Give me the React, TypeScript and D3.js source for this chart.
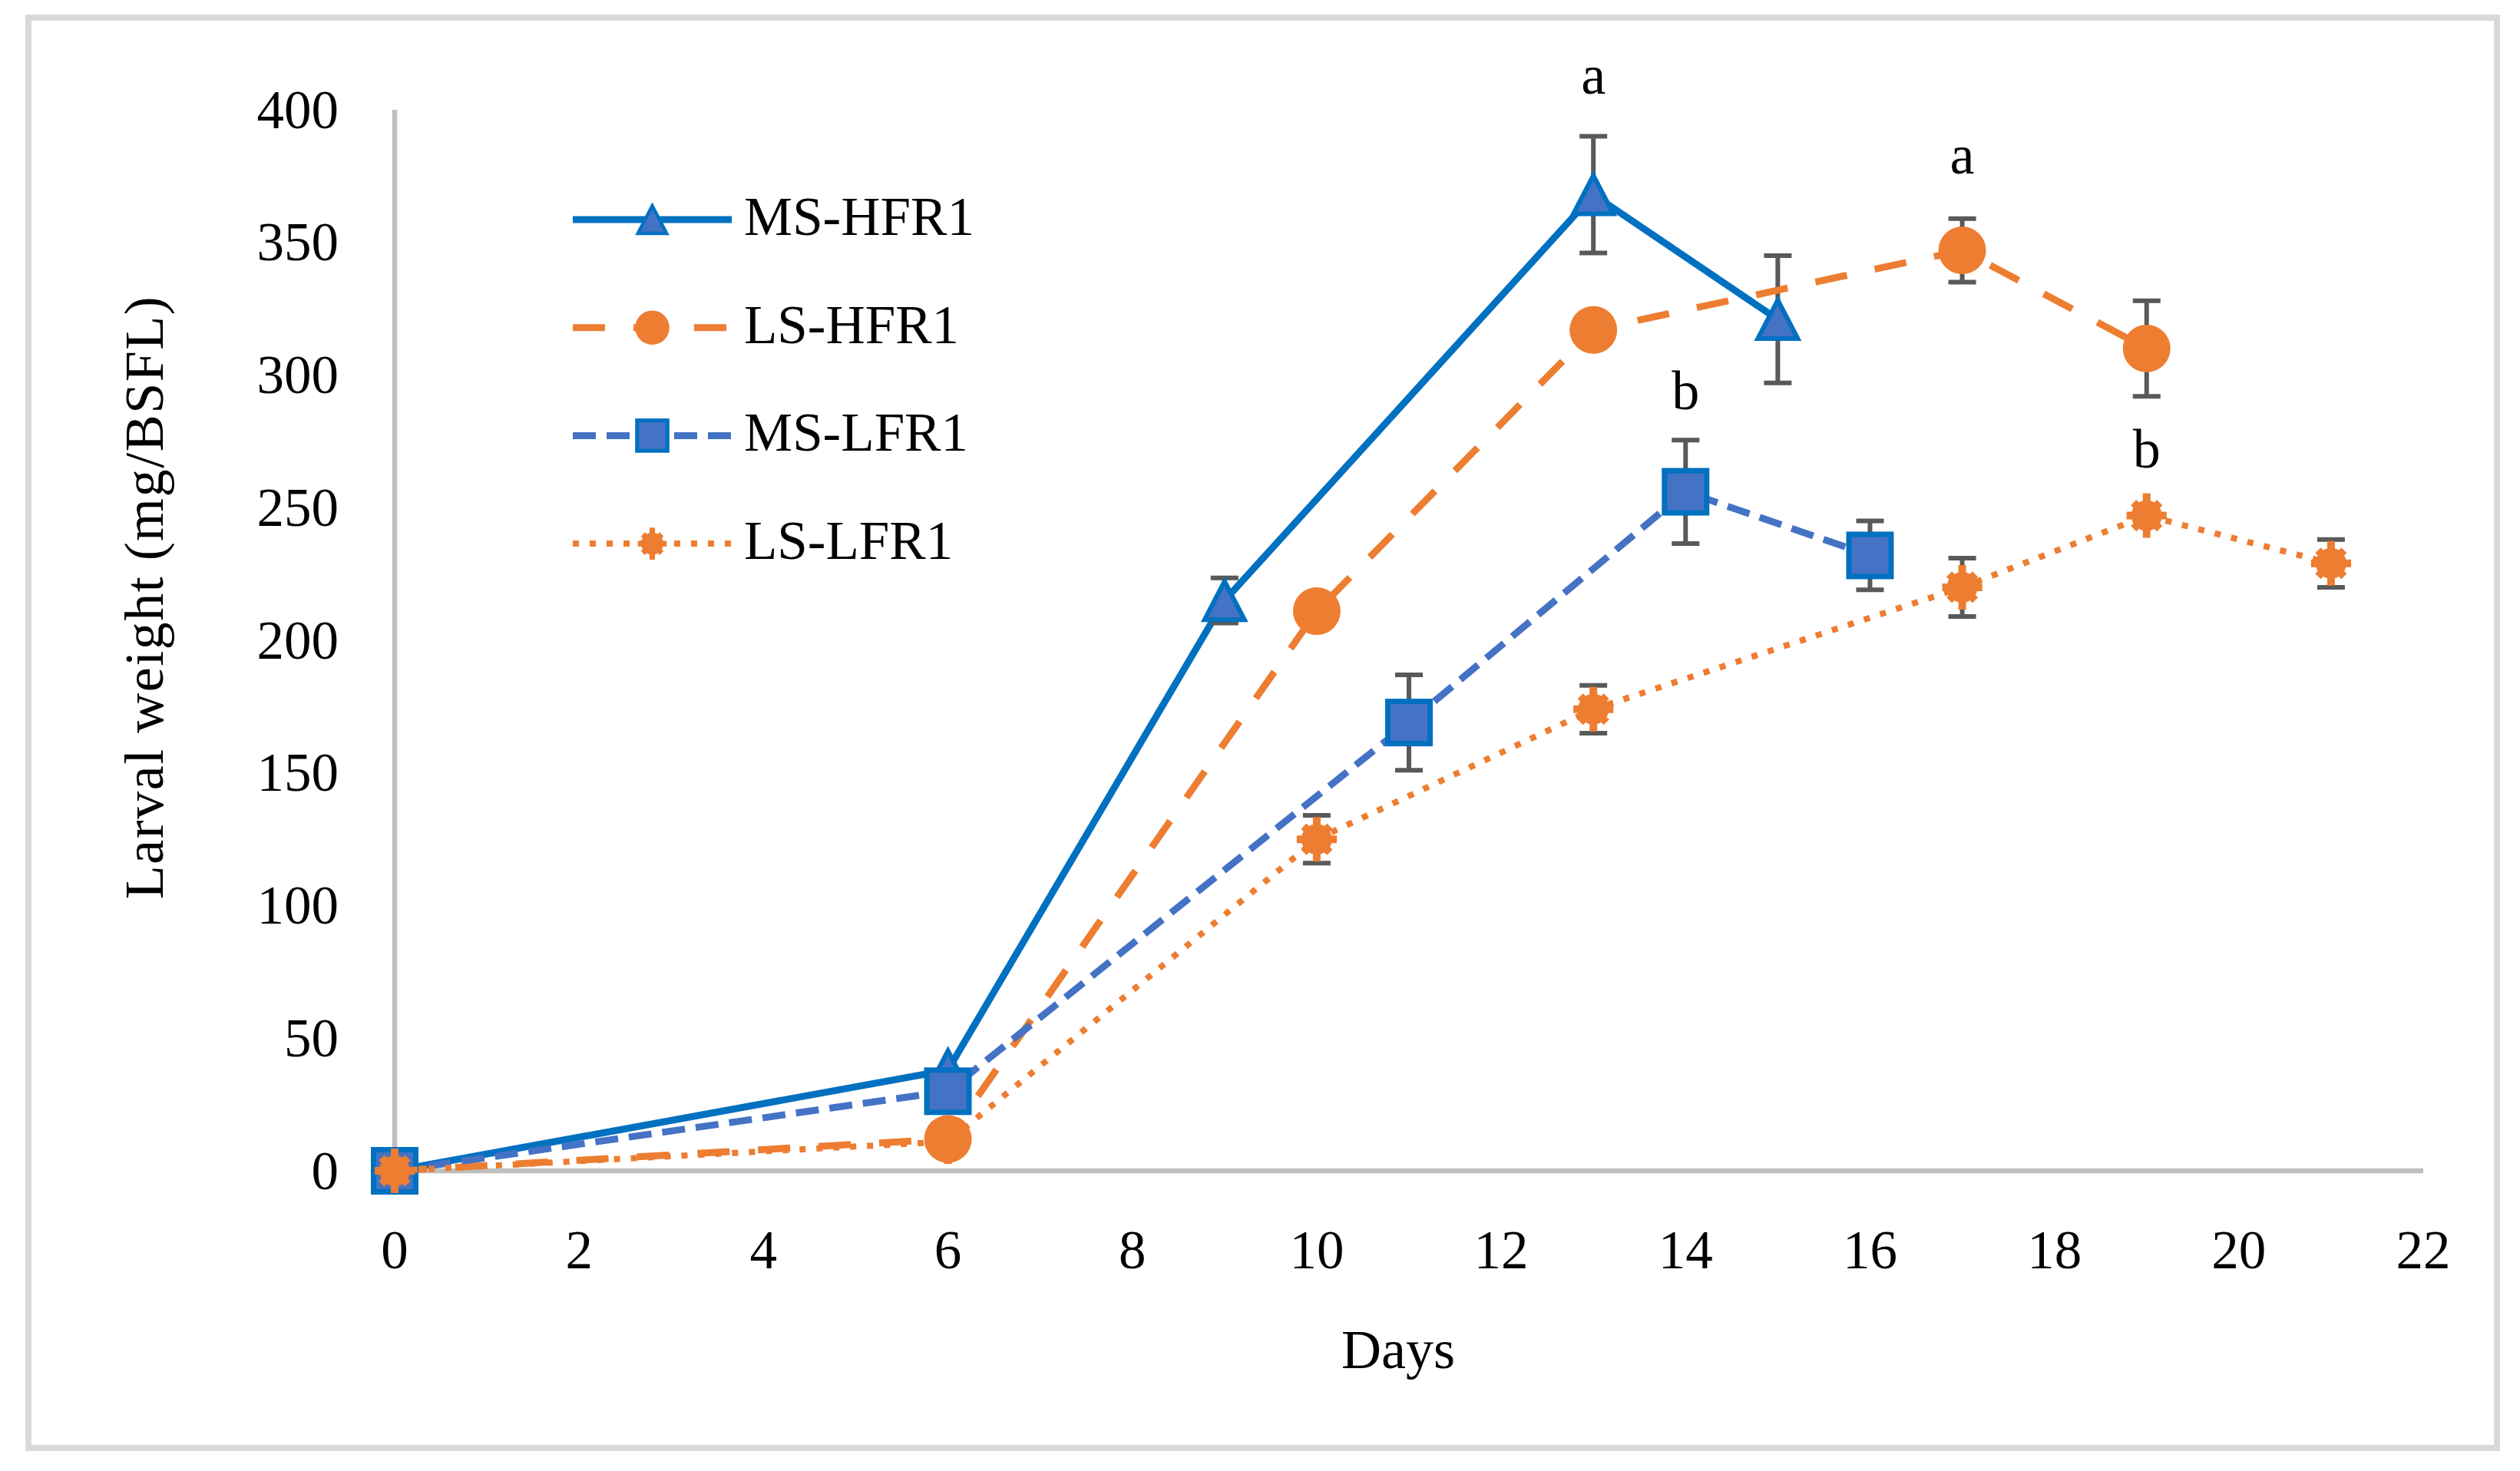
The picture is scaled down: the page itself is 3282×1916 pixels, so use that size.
import * as d3 from "d3";

const W = 3282;
const H = 1916;

// ---- data ----
const xTicks = [0, 2, 4, 6, 8, 10, 12, 14, 16, 18, 20, 22];
const yTicks = [0, 50, 100, 150, 200, 250, 300, 350, 400];

const msHfrDays = [0, 6, 9, 13, 15];
const msHfrWeight = [0, 38, 215, 368, 321];
const msHfrErr = [0, 0, 8.5, 22, 24];

const lsHfrDays = [0, 6, 10, 13, 17, 19];
const lsHfrWeight = [0, 12, 211, 317, 347, 310];
const lsHfrErr = [0, 0, 0, 0, 12, 18];

const msLfrDays = [0, 6, 11, 14, 16];
const msLfrWeight = [0, 30, 169, 256, 232];
const msLfrErr = [0, 0, 18, 19.5, 13];

const lsLfrDays = [0, 6, 10, 13, 17, 19, 21];
const lsLfrWeight = [0, 11, 125, 174, 220, 247, 229];
const lsLfrErr = [0, 0, 9, 9, 11, 0, 9];

const letterText = ["a", "a", "b", "b"];
const letterDays = [13, 17, 14, 19];
const letterLevel = [406, 376, 287, 265];

type MarkerKind = "triangle" | "circle" | "square" | "star";

interface Series {
  name: string;
  days: number[];
  values: number[];
  errors: number[];
  color: string;
  width: number;
  dash: string | undefined;
  marker: MarkerKind;
}

const series: Series[] = [
  { name: "MS-HFR1", days: msHfrDays, values: msHfrWeight, errors: msHfrErr, color: "#0070C0", width: 9, dash: undefined, marker: "triangle" },
  { name: "LS-HFR1", days: lsHfrDays, values: lsHfrWeight, errors: lsHfrErr, color: "#ED7D31", width: 9, dash: "42 37", marker: "circle" },
  { name: "MS-LFR1", days: msLfrDays, values: msLfrWeight, errors: msLfrErr, color: "#4472C4", width: 9, dash: "30 14", marker: "square" },
  { name: "LS-LFR1", days: lsLfrDays, values: lsLfrWeight, errors: lsLfrErr, color: "#ED7D31", width: 8, dash: "8 14", marker: "star" },
];

const FONT = "'Liberation Serif', 'Times New Roman', serif";
const AXIS = "#BFBFBF";
const ERR = "#595959";

function Marker({ kind, cx, cy, k }: { kind: MarkerKind; cx: number; cy: number; k: number }) {
  if (kind === "triangle") {
    const s = 52 * k;
    const h = 50 * k;
    return (
      <path
        d={`M${cx},${cy - h / 2}L${cx + s / 2},${cy + h / 2}L${cx - s / 2},${cy + h / 2}Z`}
        fill="#4472C4"
        stroke="#0070C0"
        strokeWidth={6 * k}
        strokeLinejoin="miter"
      />
    );
  }
  if (kind === "circle") {
    return <circle cx={cx} cy={cy} r={31 * k} fill="#ED7D31" />;
  }
  if (kind === "square") {
    const s = 55 * k;
    return (
      <rect x={cx - s / 2} y={cy - s / 2} width={s} height={s} fill="#4472C4" stroke="#0070C0" strokeWidth={7 * k} />
    );
  }
  const r = 29 * k;
  const d = 17 * k;
  return (
    <g>
      <circle cx={cx} cy={cy} r={20 * k} fill="#ED7D31" />
      <path
        d={`M${cx},${cy - r}V${cy + r}M${cx - r * 0.9},${cy}H${cx + r * 0.9}M${cx - d},${cy - d}L${cx + d},${cy + d}M${cx - d},${cy + d}L${cx + d},${cy - d}`}
        stroke="#ED7D31"
        strokeWidth={10 * k}
        fill="none"
      />
    </g>
  );
}

export default function App() {
  const x = d3.scaleLinear().domain([0, 22]).range([514, 3156]);
  const y = d3.scaleLinear().domain([0, 400]).range([1525, 143]);

  const lineGen = (s: Series) =>
    d3
      .line<number>()
      .x((_, i) => x(s.days[i]))
      .y((v) => y(v))(s.values) ?? "";

  const legendX0 = 746;
  const legendX1 = 953;
  const legendTop = 286;
  const legendStep = 140.7;

  return (
    <svg
      width={W}
      height={H}
      viewBox={`0 0 ${W} ${H}`}
      style={{ position: "absolute", left: 0, top: 0, display: "block", background: "#fff" }}
    >
      <rect x={0} y={0} width={W} height={H} fill="#fff" />
      <rect x={37} y={23} width={3252 - 37} height={1886 - 23} fill="none" stroke="#D9D9D9" strokeWidth={8} />

      {/* axes */}
      <line x1={x(0)} x2={x(0)} y1={y(400)} y2={y(0)} stroke={AXIS} strokeWidth={6.5} />
      <line x1={x(0)} x2={x(22)} y1={y(0)} y2={y(0)} stroke={AXIS} strokeWidth={6.5} />

      {yTicks.map((t) => (
        <text key={`y${t}`} x={441} y={y(t) + 23.5} textAnchor="end" fontFamily={FONT} fontSize={71} fill="#000">
          {t}
        </text>
      ))}
      {xTicks.map((t) => (
        <text key={`x${t}`} x={x(t)} y={1652} textAnchor="middle" fontFamily={FONT} fontSize={71} fill="#000">
          {t}
        </text>
      ))}

      <text x={1821} y={1782} textAnchor="middle" fontFamily={FONT} fontSize={72} fill="#000">
        Days
      </text>
      <text
        transform="translate(212,778) rotate(-90)"
        textAnchor="middle"
        fontFamily={FONT}
        fontSize={72}
        letterSpacing={1.5}
        fill="#000"
      >
        Larval weight (mg/BSFL)
      </text>

      {/* series */}
      {series.map((s) => (
        <g key={s.name}>
          <path d={lineGen(s)} fill="none" stroke={s.color} strokeWidth={s.width} strokeDasharray={s.dash} strokeLinejoin="round" />
          {s.values.map((v, i) =>
            s.errors[i] > 0 ? (
              <g key={`e${i}`} stroke={ERR} strokeWidth={6}>
                <line x1={x(s.days[i])} x2={x(s.days[i])} y1={y(v - s.errors[i])} y2={y(v + s.errors[i])} />
                <line x1={x(s.days[i]) - 18} x2={x(s.days[i]) + 18} y1={y(v + s.errors[i])} y2={y(v + s.errors[i])} />
                <line x1={x(s.days[i]) - 18} x2={x(s.days[i]) + 18} y1={y(v - s.errors[i])} y2={y(v - s.errors[i])} />
              </g>
            ) : null
          )}
          {s.values.map((v, i) => (
            <Marker key={`m${i}`} kind={s.marker} cx={x(s.days[i])} cy={y(v)} k={1} />
          ))}
        </g>
      ))}

      {/* significance letters */}
      {letterText.map((t, i) => (
        <text key={`l${i}`} x={x(letterDays[i])} y={y(letterLevel[i])} textAnchor="middle" fontFamily={FONT} fontSize={72} fill="#000">
          {t}
        </text>
      ))}

      {/* legend */}
      {series.map((s, i) => {
        const ly = legendTop + i * legendStep;
        return (
          <g key={`lg${s.name}`}>
            <line x1={legendX0} x2={legendX1} y1={ly} y2={ly} stroke={s.color} strokeWidth={s.width} strokeDasharray={s.dash} />
            <Marker kind={s.marker} cx={(legendX0 + legendX1) / 2} cy={ly} k={0.72} />
            <text x={969} y={ly + 20} fontFamily={FONT} fontSize={71} fill="#000">
              {s.name}
            </text>
          </g>
        );
      })}
    </svg>
  );
}
